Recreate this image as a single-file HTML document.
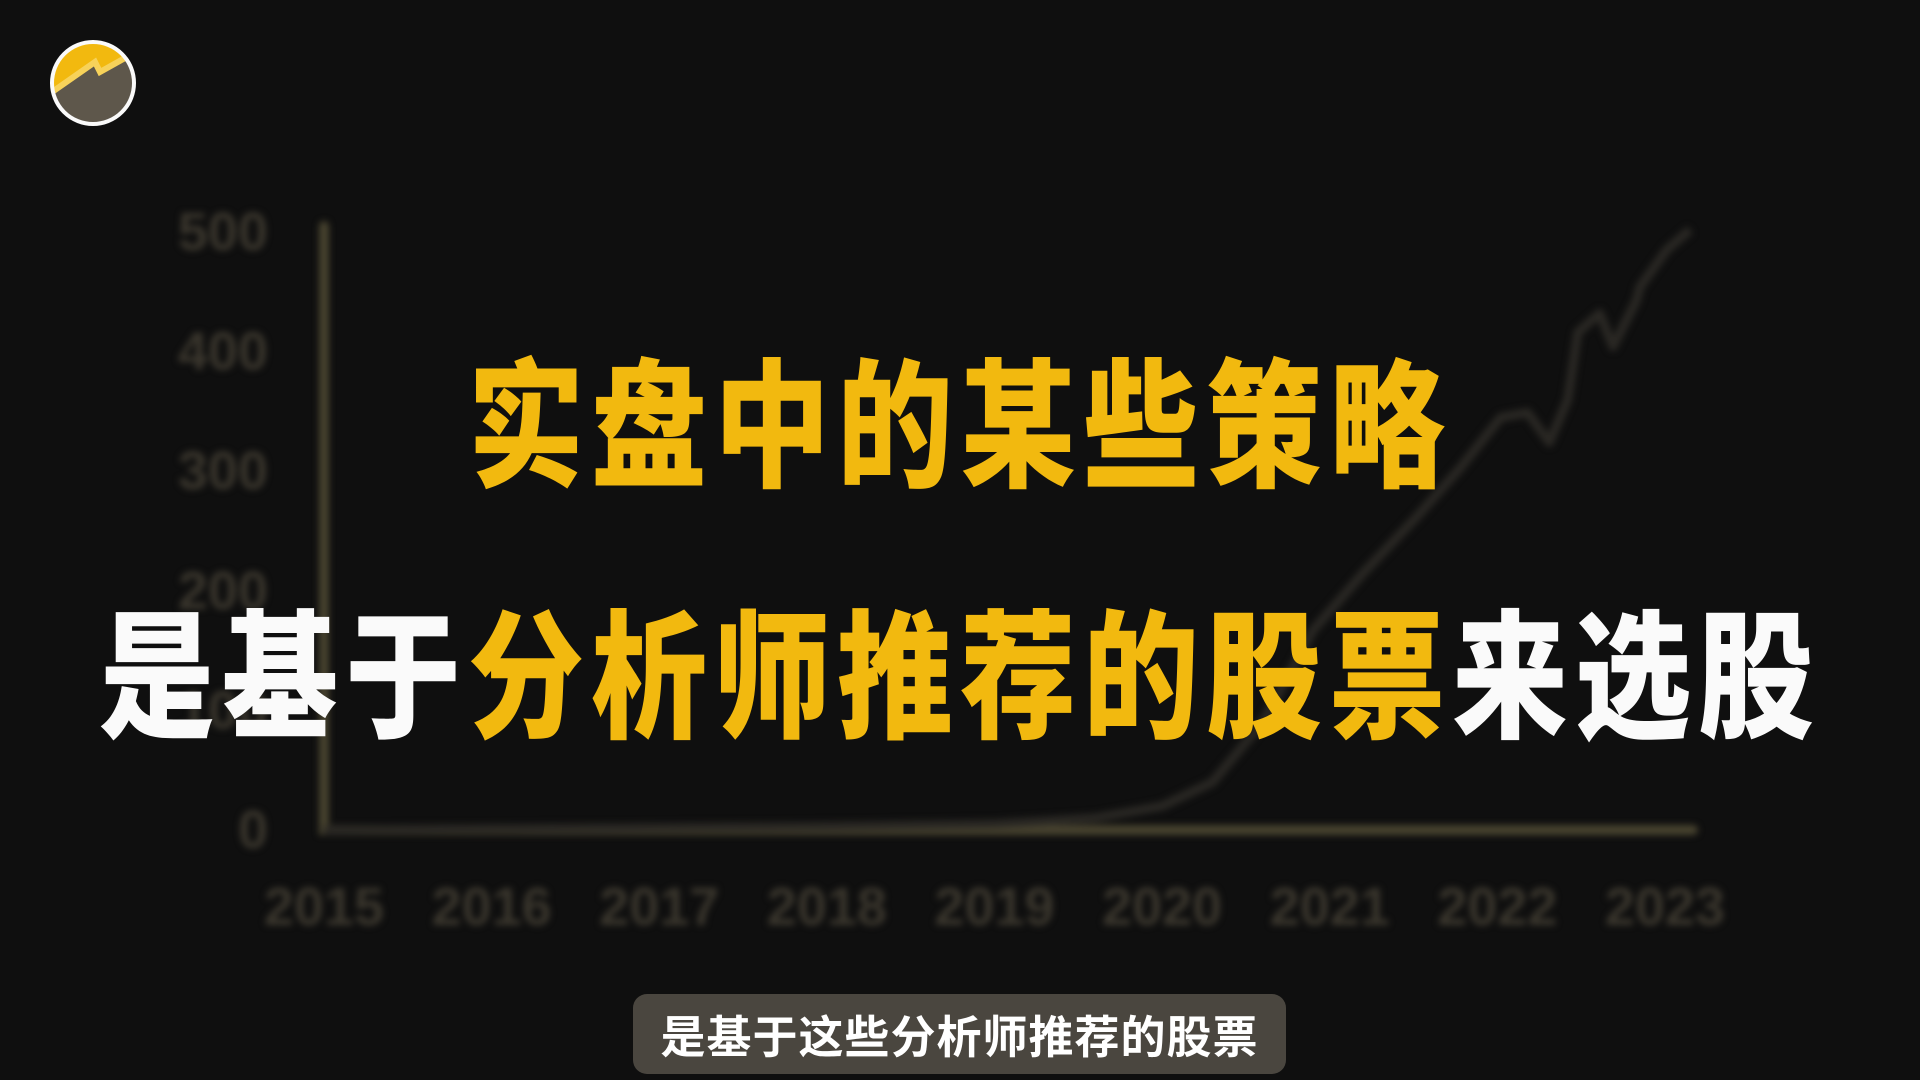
<!DOCTYPE html>
<html><head><meta charset="utf-8">
<style>
html,body{margin:0;padding:0;background:#0f0f0f;}
#stage{position:relative;width:1920px;height:1080px;overflow:hidden;background:#0f0f0f;font-family:"Liberation Sans","Noto Sans CJK SC",sans-serif;}
#chart{position:absolute;left:0;top:0;filter:blur(3.5px);}
.title{position:absolute;left:0;width:1920px;text-align:center;font-family:"Noto Sans CJK SC","WenQuanYi Zen Hei",sans-serif;font-weight:900;font-size:116px;letter-spacing:7px;line-height:1;white-space:nowrap;transform:scaleY(1.2);}
.y{color:#f2b90f}.w{color:#fafafa}
#sub{position:absolute;left:633px;top:994px;width:653px;height:80px;background:#4a463f;border-radius:14px;color:#fff;font-family:"Noto Sans CJK SC",sans-serif;font-weight:700;font-size:45px;line-height:80px;text-align:center;letter-spacing:1px;}
</style></head>
<body>
<div id="stage">
<svg id="logo" width="200" height="200" style="position:absolute;left:0;top:0">
  <defs><clipPath id="lc"><circle cx="93" cy="83" r="41"/></clipPath></defs>
  <g clip-path="url(#lc)">
    <rect x="40" y="30" width="110" height="110" fill="#5e574b"/>
    <polygon points="40,30 150,30 150,55 125,60 100,72 95,62 55,88 40,95" fill="#f2b90f"/>
    <polyline points="52,92 95,62 100,72 125,58" fill="none" stroke="#f7d25a" stroke-width="6"/>
  </g>
  <circle cx="93" cy="83" r="41" fill="none" stroke="#fafafa" stroke-width="4"/>
</svg>
<svg id="chart" width="1920" height="1080"></svg>
<div class="title" style="top:358px"><span class="y">实盘中的某些策略</span></div>
<div class="title" style="top:609px"><span class="w">是基于</span><span class="y">分析师推荐的股票</span><span class="w">来选股</span></div>
<div id="sub">是基于这些分析师推荐的股票</div>
</div>
<script>
const years=[2015,2016,2017,2018,2019,2020,2021,2022,2023];
const yTicks=[0,100,200,300,400,500];
const seriesX=[2015,2016,2017,2018,2019,2019.6,2020,2020.3,2020.6,2020.9,2021.2,2021.52,2021.78,2022.02,2022.18,2022.31,2022.42,2022.48,2022.61,2022.69,2022.83,2022.85,2023.01,2023.15];
const seriesY=[0,1,2,3,5,10,20,40,90,167,215,262,303,345,349,324,360,416,432,404,443,454,485,502];
const NS='http://www.w3.org/2000/svg';
const svg=document.getElementById('chart');
const x0=324,x1=1665,y0=830,y1=232;
function sx(v){return x0+(v-2015)/(2023-2015)*(x1-x0);}
function sy(v){return y0-(v/500)*(y0-y1);}
function mk(t,a){const e=document.createElementNS(NS,t);for(const k in a)e.setAttribute(k,a[k]);svg.appendChild(e);return e;}
const ax=mk('path',{d:`M${x0} ${sy(505)} L${x0} ${y0} L1693 ${y0}`,fill:'none',stroke:'#48432f',"stroke-width":10,"stroke-linecap":"round"});


yTicks.forEach(v=>{
  const t=mk('text',{x:268,y:sy(v)+18,"text-anchor":"end","font-size":54,"font-weight":700,fill:'#3a362d',"font-family":"Liberation Sans, sans-serif"});
  t.textContent=v;
  
  
});
years.forEach(v=>{
  const t=mk('text',{x:sx(v),y:925,"text-anchor":"middle","font-size":54,"font-weight":700,fill:'#3a362d',"font-family":"Liberation Sans, sans-serif"});
  t.textContent=v;
  
  
});
const d=seriesX.map((x,i)=>(i?'L':'M')+sx(x).toFixed(1)+' '+sy(seriesY[i]).toFixed(1)).join(' ');
const ln=mk('path',{d:d,fill:'none',stroke:'#2a2824',"stroke-width":9,"stroke-linejoin":"round"});


</script>
</body></html>
